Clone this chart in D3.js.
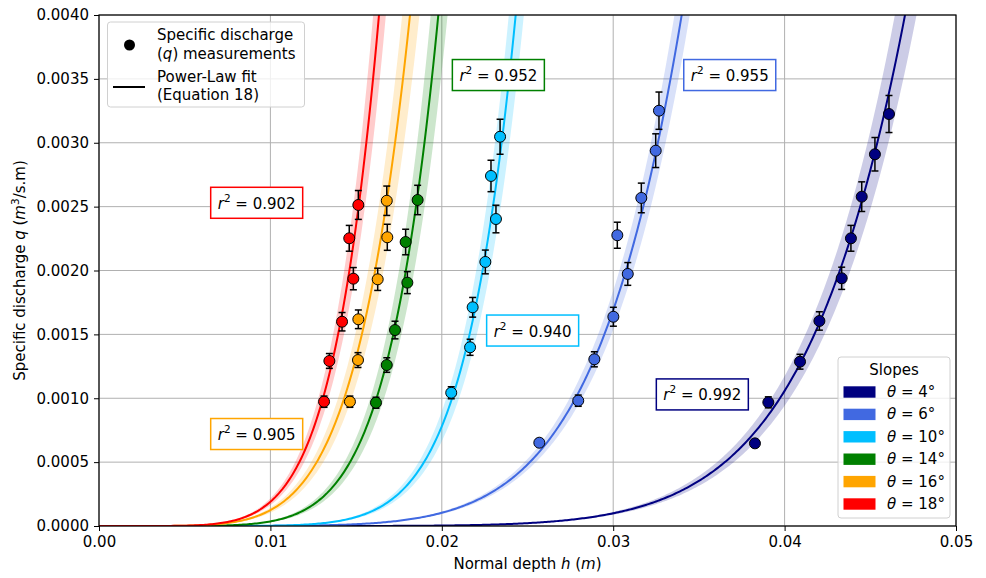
<!DOCTYPE html>
<html>
<head>
<meta charset="utf-8">
<script src="https://cdn.jsdelivr.net/npm/d3@7"></script>
<style>
  html, body { margin: 0; padding: 0; background: #fff; }
  svg { display: block; font-family: "DejaVu Sans", sans-serif; }
</style>
</head>
<body>
<svg id="chart" width="986" height="578"></svg>
<script>
// Flume measurements: normal depth h (m), specific discharge q (m3/s.m) and its uncertainty
const slopeDegrees = [4, 6, 10, 14, 16, 18];

const depth4 = [0.03827, 0.03905, 0.04090, 0.04203, 0.04333, 0.04387, 0.04450, 0.04527, 0.04609];
const discharge4 = [0.000647, 0.000968, 0.001286, 0.001605, 0.001939, 0.002252, 0.002578, 0.002910, 0.003225];
const error4 = [0.000029, 0.000043, 0.000058, 0.000072, 0.000087, 0.000101, 0.000116, 0.000131, 0.000145];

const depth6 = [0.02569, 0.02796, 0.02890, 0.03001, 0.03085, 0.03024, 0.03164, 0.03248, 0.03267];
const discharge6 = [0.000652, 0.000981, 0.001305, 0.001638, 0.001973, 0.002276, 0.002568, 0.002938, 0.003251];
const error6 = [0.000029, 0.000044, 0.000059, 0.000074, 0.000089, 0.000102, 0.000116, 0.000132, 0.000146];

const depth10 = [0.02055, 0.02165, 0.02180, 0.02254, 0.02316, 0.02287, 0.02340];
const discharge10 = [0.001043, 0.001399, 0.001712, 0.002067, 0.002403, 0.002740, 0.003047];
const error10 = [0.000047, 0.000063, 0.000077, 0.000093, 0.000108, 0.000123, 0.000137];

const depth14 = [0.01616, 0.01679, 0.01727, 0.01799, 0.01789, 0.01859];
const discharge14 = [0.000965, 0.001260, 0.001534, 0.001905, 0.002223, 0.002552];
const error14 = [0.000043, 0.000057, 0.000069, 0.000086, 0.000100, 0.000115];

const depth16 = [0.01464, 0.01511, 0.01513, 0.01626, 0.01682, 0.01679];
const discharge16 = [0.000973, 0.001299, 0.001618, 0.001931, 0.002260, 0.002546];
const error16 = [0.000044, 0.000058, 0.000073, 0.000087, 0.000102, 0.000115];

const depth18 = [0.01313, 0.01344, 0.01418, 0.01484, 0.01460, 0.01513];
const discharge18 = [0.000973, 0.001292, 0.001599, 0.001936, 0.002252, 0.002513];
const error18 = [0.000044, 0.000058, 0.000072, 0.000087, 0.000101, 0.000113];

// Power-law fit q = a * h^b for each slope, its relative confidence half-width and r^2
const fitCoefficient = [3.277e8, 5.254e7, 1.2968e11, 2.268e9, 5.669e7, 4.994e8];
const fitExponent = [8.22, 6.89, 8.37, 6.90, 5.83, 6.21];
const fitBand = [0.11, 0.09, 0.15, 0.17, 0.16, 0.14];
const rSquared = ["0.992", "0.955", "0.940", "0.952", "0.905", "0.902"];
// where each r^2 annotation sits, in data units (h, q)
const labelDepth = [0.0352, 0.0368, 0.0253, 0.0233, 0.0092, 0.0092];
const labelDischarge = [0.00103, 0.00353, 0.00153, 0.00353, 0.00072, 0.00253];

const xTicks = [0, 0.01, 0.02, 0.03, 0.04, 0.05];
const yTicks = [0, 0.0005, 0.001, 0.0015, 0.002, 0.0025, 0.003, 0.0035, 0.004];

const colors = ["#000080", "#4169e1", "#00bfff", "#008000", "#ffa500", "#ff0000"];

const depths = [depth4, depth6, depth10, depth14, depth16, depth18];
const discharges = [discharge4, discharge6, discharge10, discharge14, discharge16, discharge18];
const errors = [error4, error6, error10, error14, error16, error18];

const series = slopeDegrees.map((s, i) => ({
  slope: s,
  color: colors[i],
  a: fitCoefficient[i],
  b: fitExponent[i],
  band: fitBand[i],
  r2: rSquared[i],
  lh: labelDepth[i],
  lq: labelDischarge[i],
  points: depths[i].map((h, j) => ({ h, q: discharges[i][j], e: errors[i][j] }))
}));

const svg = d3.select("#chart");
const margin = { left: 99, right: 30, top: 15, bottom: 52 };
const W = 986, H = 578;
const FS = 15;
const x = d3.scaleLinear().domain([0, 0.05]).range([margin.left, W - margin.right]);
const y = d3.scaleLinear().domain([0, 0.004]).range([H - margin.bottom, margin.top]);

svg.append("defs").append("clipPath").attr("id", "plotclip")
  .append("rect")
  .attr("x", x(0)).attr("y", y(0.004))
  .attr("width", x(0.05) - x(0)).attr("height", y(0) - y(0.004));

// grid
const grid = svg.append("g").attr("stroke", "#b0b0b0").attr("stroke-width", 1);
grid.selectAll(".gx").data(xTicks).join("line")
  .attr("x1", d => x(d)).attr("x2", d => x(d))
  .attr("y1", y(0)).attr("y2", y(0.004));
grid.selectAll(".gy").data(yTicks).join("line")
  .attr("x1", x(0)).attr("x2", x(0.05))
  .attr("y1", d => y(d)).attr("y2", d => y(d));

const plot = svg.append("g").attr("clip-path", "url(#plotclip)");
const hSamples = d3.range(0, 501).map(i => i * 0.05 / 500);

series.forEach(s => {
  const fit = h => s.a * Math.pow(h, s.b);
  const area = d3.area()
    .x(h => x(h))
    .y0(h => y(Math.min(fit(h) * (1 - s.band), 0.01)))
    .y1(h => y(Math.min(fit(h) * (1 + s.band), 0.01)));
  plot.append("path").datum(hSamples)
    .attr("d", area)
    .attr("fill", s.color).attr("fill-opacity", 0.2);
  const line = d3.line().x(h => x(h)).y(h => y(Math.min(fit(h), 0.01)));
  plot.append("path").datum(hSamples)
    .attr("d", line)
    .attr("fill", "none").attr("stroke", s.color).attr("stroke-width", 2);
});

series.forEach(s => {
  const g = plot.append("g");
  const eb = g.selectAll("g.eb").data(s.points).join("g").attr("stroke", "#000").attr("stroke-width", 1.5);
  eb.append("line")
    .attr("x1", d => x(d.h)).attr("x2", d => x(d.h))
    .attr("y1", d => y(d.q - d.e)).attr("y2", d => y(d.q + d.e));
  eb.append("line")
    .attr("x1", d => x(d.h) - 3.5).attr("x2", d => x(d.h) + 3.5)
    .attr("y1", d => y(d.q - d.e)).attr("y2", d => y(d.q - d.e));
  eb.append("line")
    .attr("x1", d => x(d.h) - 3.5).attr("x2", d => x(d.h) + 3.5)
    .attr("y1", d => y(d.q + d.e)).attr("y2", d => y(d.q + d.e));
  g.selectAll("circle").data(s.points).join("circle")
    .attr("cx", d => x(d.h)).attr("cy", d => y(d.q)).attr("r", 5.5)
    .attr("fill", s.color).attr("stroke", "#000").attr("stroke-width", 1);
});

// axes
const xAxis = d3.axisBottom(x).tickValues(xTicks).tickFormat(d3.format(".2f")).tickSize(5).tickPadding(5);
const yAxis = d3.axisLeft(y).tickValues(yTicks).tickFormat(d3.format(".4f")).tickSize(5).tickPadding(5);
const gx = svg.append("g").attr("transform", `translate(0,${y(0)})`).call(xAxis);
const gy = svg.append("g").attr("transform", `translate(${x(0)},0)`).call(yAxis);
[gx, gy].forEach(g => {
  g.select(".domain").remove();
  g.selectAll("text").attr("font-size", FS).attr("fill", "#000").attr("font-family", "DejaVu Sans");
  g.selectAll("line").attr("stroke", "#000").attr("stroke-width", 1);
});
svg.append("rect")
  .attr("x", x(0)).attr("y", y(0.004))
  .attr("width", x(0.05) - x(0)).attr("height", y(0) - y(0.004))
  .attr("fill", "none").attr("stroke", "#000").attr("stroke-width", 1.2);

// axis titles
const xt = svg.append("text").attr("x", (x(0) + x(0.05)) / 2).attr("y", 569)
  .attr("text-anchor", "middle").attr("font-size", FS);
xt.append("tspan").text("Normal depth ");
xt.append("tspan").attr("font-style", "italic").text("h");
xt.append("tspan").text(" (");
xt.append("tspan").attr("font-style", "italic").text("m");
xt.append("tspan").text(")");

const yt = svg.append("text")
  .attr("transform", `translate(25,${(y(0) + y(0.004)) / 2}) rotate(-90)`)
  .attr("text-anchor", "middle").attr("font-size", FS);
yt.append("tspan").text("Specific discharge ");
yt.append("tspan").attr("font-style", "italic").text("q");
yt.append("tspan").text(" (");
yt.append("tspan").attr("font-style", "italic").text("m");
yt.append("tspan").attr("font-size", 10.5).attr("dy", -6).text("3");
yt.append("tspan").attr("dy", 6).text("/s.m)");

// r^2 annotations
series.forEach(s => {
  const cx = x(s.lh), cy = y(s.lq);
  svg.append("rect")
    .attr("x", cx - 46).attr("y", cy - 15.5).attr("width", 92).attr("height", 31)
    .attr("fill", "#fff").attr("stroke", s.color).attr("stroke-width", 1.5);
  const t = svg.append("text").attr("x", cx).attr("y", cy + 6)
    .attr("text-anchor", "middle").attr("font-size", 15);
  t.append("tspan").attr("font-style", "italic").text("r");
  t.append("tspan").attr("font-size", 10.5).attr("dy", -7).text("2");
  t.append("tspan").attr("dy", 7).text(" = " + s.r2);
});

// marker/line legend
const lg = svg.append("g");
lg.append("rect").attr("x", 107.5).attr("y", 22).attr("width", 197).attr("height", 85).attr("rx", 3)
  .attr("fill", "#fff").attr("fill-opacity", 0.8).attr("stroke", "#d0d0d0");
lg.append("circle").attr("cx", 129.5).attr("cy", 45).attr("r", 5.5).attr("fill", "#000");
lg.append("line").attr("x1", 113).attr("x2", 145).attr("y1", 87).attr("y2", 87)
  .attr("stroke", "#000").attr("stroke-width", 2);
const l1 = lg.append("text").attr("x", 157).attr("y", 40).attr("font-size", FS);
l1.append("tspan").text("Specific discharge");
const l2 = lg.append("text").attr("x", 157).attr("y", 58.5).attr("font-size", FS);
l2.append("tspan").text("(");
l2.append("tspan").attr("font-style", "italic").text("q");
l2.append("tspan").text(") measurements");
lg.append("text").attr("x", 157).attr("y", 81.5).attr("font-size", FS).text("Power-Law fit");
lg.append("text").attr("x", 157).attr("y", 99.5).attr("font-size", FS).text("(Equation 18)");

// slope legend
const sl = svg.append("g");
sl.append("rect").attr("x", 838).attr("y", 357).attr("width", 112).attr("height", 161).attr("rx", 3)
  .attr("fill", "#fff").attr("fill-opacity", 0.8).attr("stroke", "#d0d0d0");
sl.append("text").attr("x", 894).attr("y", 375).attr("text-anchor", "middle").attr("font-size", FS).text("Slopes");
series.forEach((s, i) => {
  const cy = 392 + i * 22.4;
  sl.append("rect").attr("x", 843.5).attr("y", cy - 5.7).attr("width", 32).attr("height", 11.4).attr("fill", s.color);
  const t = sl.append("text").attr("x", 887).attr("y", cy + 5).attr("font-size", FS);
  t.append("tspan").attr("font-style", "italic").text("θ");
  t.append("tspan").text(" = " + s.slope + "°");
});
</script>
</body>
</html>
